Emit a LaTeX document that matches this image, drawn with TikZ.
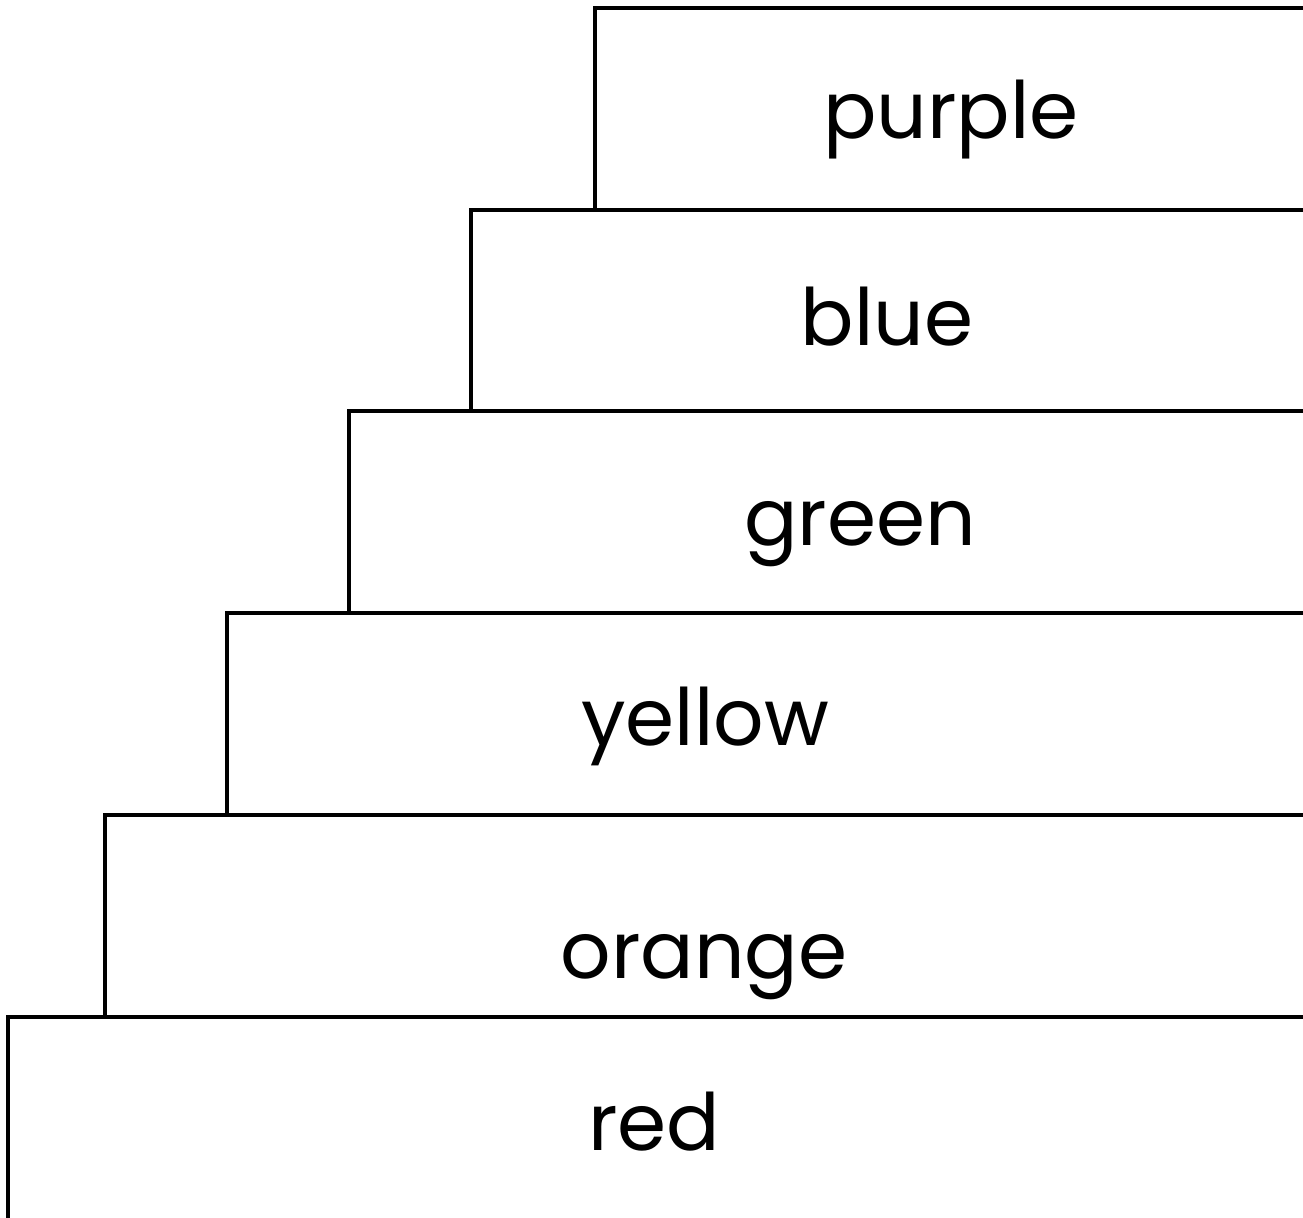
\documentclass[tikz,border=0pt]{standalone}
\usepackage{fontspec}
\setmainfont{Poppins}
\usepackage{tikz}

\tikzset{
  tier/.style={draw=black, line width=0.9pt},
  word/.style={anchor=base, inner sep=0pt, font=\fontsize{22.5}{26}\selectfont}
}

\begin{document}
\begin{tikzpicture}
    \useasboundingbox (0,0) rectangle (13.03,12.17);

    % Steps, top to bottom:
    \draw[tier] (5.95,10.07) rectangle (13.6,12.09);
    \draw[tier] (4.71,8.06) rectangle (13.6,10.07);
    \draw[tier] (3.49,6.04) rectangle (13.6,8.06);
    \draw[tier] (2.27,4.02) rectangle (13.6,6.04);
    \draw[tier] (1.05,2.00) rectangle (13.6,4.02);
    \draw[tier] (0.08,-0.5) rectangle (13.6,2.00);

    % Labels:
    \node[word] (purple) at (9.51,10.79) {purple};
    \node[word] (blue) at (8.87,8.72) {blue};
    \node[word] (green) at (8.60,6.72) {green};
    \node[word] (yellow) at (7.05,4.72) {yellow};
    \node[word] (orange) at (7.04,2.39) {orange};
    \node[word] (red) at (6.54,0.67) {red};
\end{tikzpicture}
\end{document}
